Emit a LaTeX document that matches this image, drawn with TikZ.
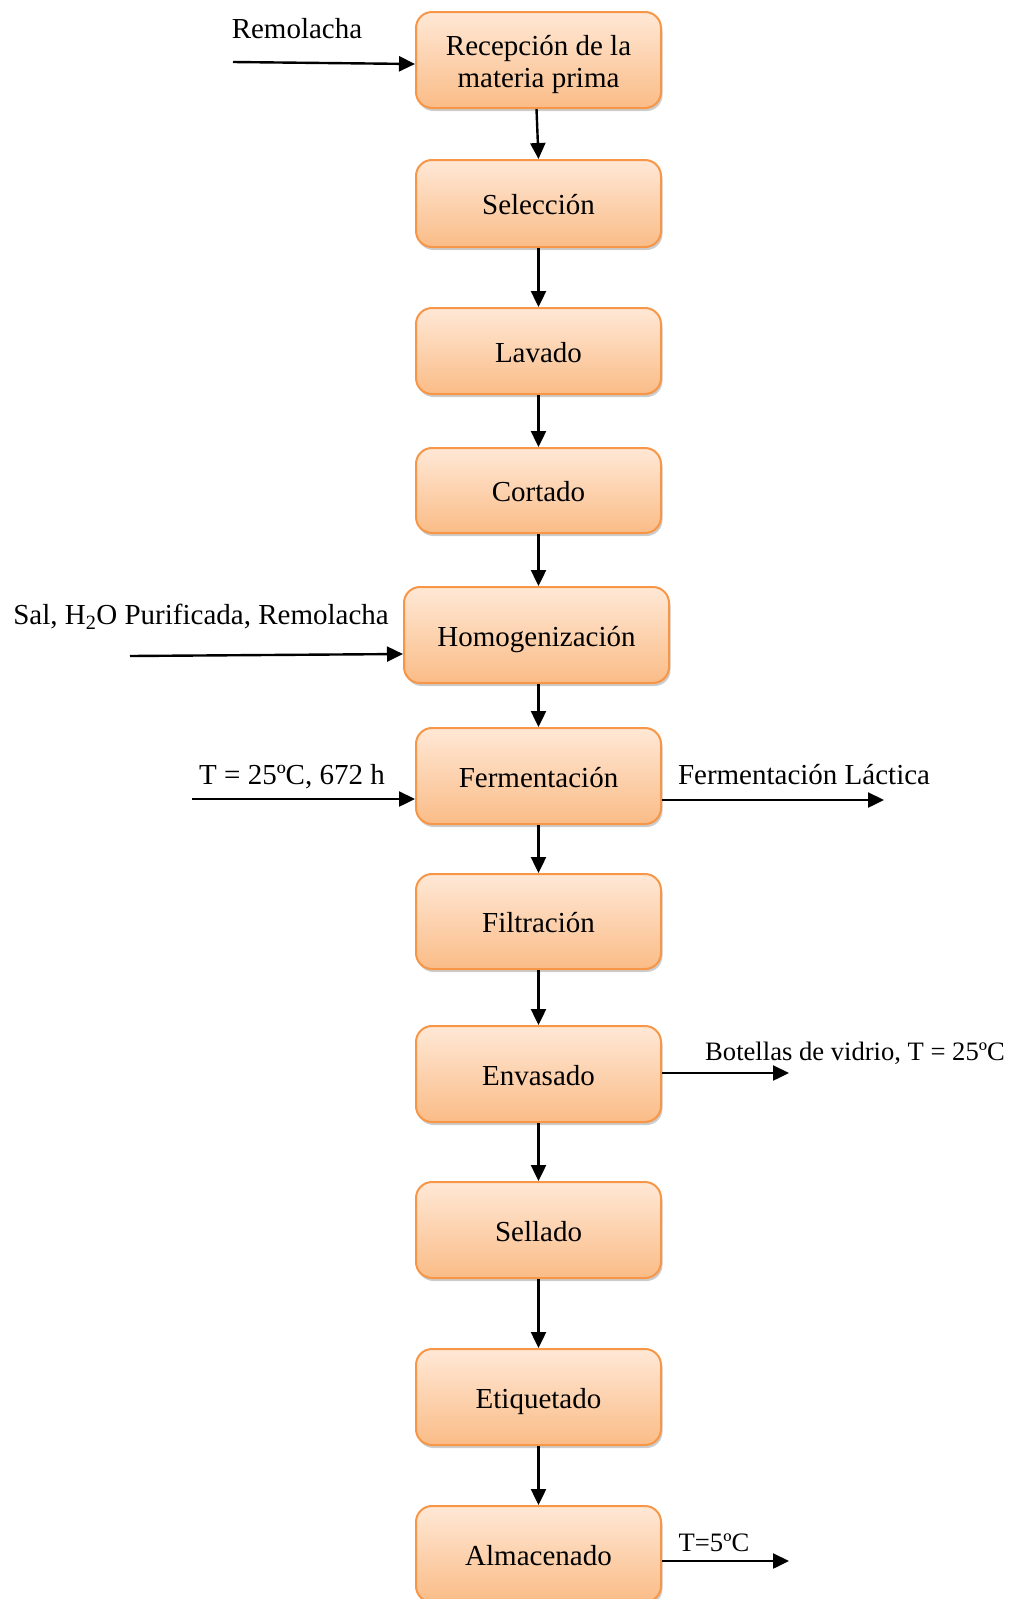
\documentclass[tikz,border=0pt]{standalone}
\usepackage{fontspec}
\setmainfont{Liberation Serif}
\usetikzlibrary{arrows.meta,shadows}
\definecolor{boxedge}{RGB}{247,150,70}
\definecolor{boxtop}{RGB}{255,232,214}
\definecolor{boxbot}{RGB}{250,188,135}
\begin{document}
\begin{tikzpicture}[x=1pt,y=-1pt,
  procbox/.style={draw=boxedge, line width=2pt, rounded corners=16pt,
    top color=boxtop, bottom color=boxbot, minimum width=245pt, minimum height=96pt,
    inner sep=0pt, align=center, font=\fontsize{29}{32}\selectfont,
    text height=22pt, text depth=0pt,
    drop shadow={shadow xshift=1.5pt, shadow yshift=-3pt, opacity=0.2, fill=black}},
  arr/.style={line width=2.4pt, -{Triangle[length=16pt,width=15pt]}},
  lbl/.style={inner sep=0pt, font=\fontsize{29}{33}\selectfont},
  slbl/.style={inner sep=0pt, font=\fontsize{26.6}{30}\selectfont}]
\useasboundingbox (0,0) rectangle (1011,1599);
\node[procbox, text height=54pt] (rec) at (538.5,60) {Recepción de la\\materia prima};
\node[procbox, minimum height=87pt] (sel) at (538.5,203.5) {Selección};
\node[procbox, minimum height=86pt] (lav) at (538.5,351) {Lavado};
\node[procbox, minimum height=85pt] (cor) at (538.5,490.5) {Cortado};
\node[procbox, minimum width=265pt] (hom) at (536.5,635) {Homogenización};
\node[procbox] (fer) at (538.5,776) {Fermentación};
\node[procbox, minimum height=95pt] (fil) at (538.5,921.5) {Filtración};
\node[procbox] (env) at (538.5,1074) {Envasado};
\node[procbox] (sella) at (538.5,1230) {Sellado};
\node[procbox] (eti) at (538.5,1397) {Etiquetado};
\node[procbox] (alm) at (538.5,1554) {Almacenado};
% vertical connectors
\draw[arr] ([xshift=-2pt]rec.south) -- (sel.north);
\draw[arr] (sel) -- (lav);
\draw[arr] (lav) -- (cor);
\draw[arr] (cor.south) -- (cor.south |- hom.north);
\draw[arr] (hom.south -| fer.north) -- (fer.north);
\draw[arr] (fer) -- (fil);
\draw[arr] (fil) -- (env);
\draw[arr] (env) -- (sella);
\draw[arr] (sella) -- (eti);
\draw[arr] (eti) -- (alm);
% side inputs / outputs
\coordinate (inrem) at (233,62);
\node[lbl] (lrem) at (297,29) {Remolacha};
\draw[arr] (inrem) -- ([yshift=-4pt]rec.west);
\coordinate (insal) at (130,656);
\node[lbl] (lsal) at (201,617) {Sal, H\textsubscript{2}O Purificada, Remolacha};
\draw[arr] (insal) -- ([yshift=-19pt]hom.west);
\coordinate (intemp) at (192,799);
\node[lbl] (ltemp) at (292,777) {T = 25ºC, 672 h};
\draw[arr] (intemp) -- ([yshift=-23pt]fer.west);
\coordinate (outlac) at (884,800);
\node[lbl] (llac) at (804,775) {Fermentación Láctica};
\draw[arr] ([yshift=-24pt]fer.east) -- (outlac);
\coordinate (outbot) at (789,1073);
\node[slbl] (lbot) at (855,1053) {Botellas de vidrio, T = 25ºC};
\draw[arr] ([yshift=1pt]env.east) -- (outbot);
\coordinate (outalm) at (789,1561);
\node[slbl] (lalm) at (714,1543) {T=5ºC};
\draw[arr] ([yshift=-7pt]alm.east) -- (outalm);
\end{tikzpicture}
\end{document}
